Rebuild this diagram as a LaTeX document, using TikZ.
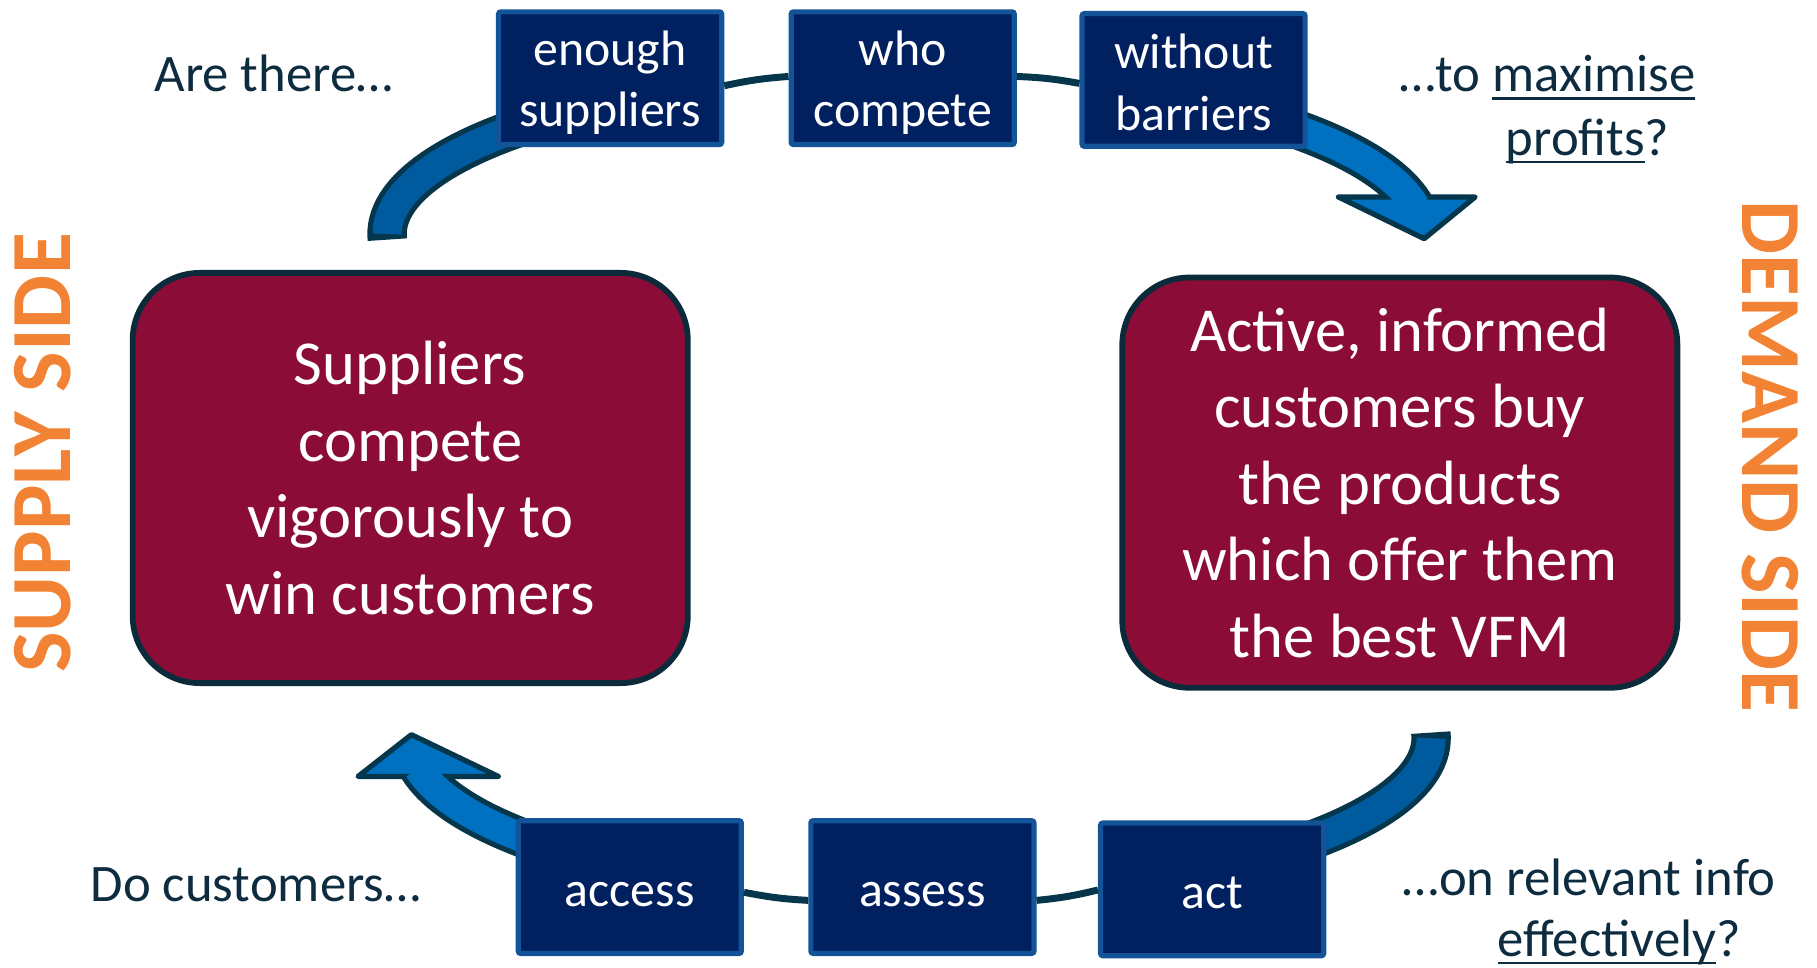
\documentclass[tikz,border=0pt]{standalone}
\usepackage{fontspec}
\setmainfont{Carlito}
\usetikzlibrary{calc}
\definecolor{navy}{HTML}{002060}
\definecolor{boxedge}{HTML}{125497}
\definecolor{burg}{HTML}{8A0C37}
\definecolor{burgedge}{HTML}{0B2B3A}
\definecolor{darkline}{HTML}{06364B}
\definecolor{tailblue}{HTML}{005A9E}
\definecolor{headblue}{HTML}{0070C0}
\definecolor{txt}{HTML}{0E2C40}
\definecolor{orng}{HTML}{F28234}
\newcommand\myul[1]{\setbox0\hbox{#1}\rlap{\rule[-3.5pt]{\wd0}{1pt}}#1}
\newcommand\hgt[1]{\rule{0pt}{#1}}
\begin{document}
\begin{tikzpicture}[x=0.5pt,y=0.5pt,
  smallbox/.style={draw=boxedge, line width=2.25pt, fill=navy, text=white,
    minimum width=96.25pt, minimum height=57.25pt, inner sep=0pt, align=center,
    font=\fontsize{21.5pt}{26.5pt}\selectfont, rounded corners=1pt},
  bigbox/.style={draw=burgedge, line width=2.5pt, fill=burg, text=white,
    minimum width=239.5pt, minimum height=177pt, rounded corners=29pt, align=center,
    inner sep=0pt, font=\fontsize{27pt}{33pt}\selectfont},
  side/.style={text=txt, font=\fontsize{22.75pt}{27pt}\selectfont, inner sep=0pt},
  sidetitle/.style={text=orng, font=\bfseries\fontsize{37pt}{40pt}\selectfont, inner sep=0pt},
  link/.style={draw=darkline, line width=3pt},
  shaftout/.style={draw=darkline, line width=17pt},
  shafttail/.style={draw=tailblue, line width=12.5pt},
  shafthead/.style={draw=headblue, line width=12.5pt},
  headtip/.style={fill=headblue, draw=darkline, line width=2.25pt, line join=round}
]
\useasboundingbox (0,0) rectangle (1568,835);

% ---- block arrows (drawn first, behind the boxes) ----
% top-left tail
\draw[shaftout] ({781+447*cos(182)},{633+138*sin(182)}) arc[start angle=182, end angle=130, x radius=447, y radius=138];
\draw[shafttail] ({781+447*cos(180)},{633+138*sin(180)}) arc[start angle=180, end angle=130, x radius=447, y radius=138];
% top-right with head
\draw[shaftout] ({781+447*cos(45)},{633+138*sin(45)}) arc[start angle=45, end angle=8, x radius=447, y radius=138];
\path[headtip] (1155,665) -- (1273,665) -- (1229,629) -- cycle;
\draw[shafthead] ({781+447*cos(45)},{633+138*sin(45)}) arc[start angle=45, end angle=10, x radius=447, y radius=138];
% bottom-right tail
\draw[shaftout] ({794+441*cos(2)},{198+137*sin(2)}) arc[start angle=2, end angle=-50, x radius=441, y radius=137];
\draw[shafttail] ({794+441*cos(0)},{198+137*sin(0)}) arc[start angle=0, end angle=-50, x radius=441, y radius=137];
% bottom-left with head
\draw[shaftout] ({794+441*cos(230)},{198+137*sin(230)}) arc[start angle=230, end angle=189, x radius=441, y radius=137];
\path[headtip] (309,165) -- (430,165) -- (355,201) -- cycle;
\draw[shafthead] ({794+441*cos(230)},{198+137*sin(230)}) arc[start angle=230, end angle=191, x radius=441, y radius=137];

% ---- boxes ----
\node[smallbox] (enough) at (526.5,767.5) {\hgt{19pt}enough\\suppliers};
\node[smallbox] (who) at (779,767.5) {\hgt{19pt}who\\compete};
\node[smallbox] (without) at (1030,766) {\hgt{17pt}without\\barriers};
\node[smallbox] (access) at (543.5,69.5) {\hgt{17pt}access};
\node[smallbox] (assess) at (796,69.5) {\hgt{17pt}assess};
\node[smallbox] (act) at (1046,67.5) {\hgt{17pt}act};

\node[bigbox] (supplybox) at (354,422.5) {Suppliers\\compete\\vigorously to\\win customers};
\node[bigbox] (demandbox) at (1208,418.5) {Active, informed\\customers buy\\the products\\which offer them\\the best VFM};

% ---- links between boxes ----
\draw[link] ([yshift=-3.25pt]enough.east) to[bend left=4] ([yshift=0.75pt]who.west);
\draw[link] ([yshift=0.75pt]who.east) to[bend left=4] ([yshift=-1.5pt]without.west);
\draw[link] ([yshift=-2.25pt]access.east) to[bend right=4] ([yshift=-5.75pt]assess.west);
\draw[link] ([yshift=-5.75pt]assess.east) to[bend right=4] ([yshift=-0.25pt]act.west);

% ---- side texts ----
\node[side, anchor=base west] (arethere) at (133,756) {Are there…};
\node[side, anchor=base west] (maximise) at (1207,756) {…to \myul{maximise}};
\node[side, anchor=base west] (profits) at (1299,701) {\myul{profits}?};
\node[side, anchor=base west] (docust) at (78,57) {Do customers…};
\node[side, anchor=base west] (relevant) at (1210,62) {…on relevant info};
\node[side, anchor=base west] (effect) at (1292,10) {\myul{effectively}?};

\node[sidetitle, rotate=90] (supply) at (37,444) {SUPPLY SIDE};
\node[sidetitle, rotate=-90] (demand) at (1528,441) {DEMAND SIDE};
\end{tikzpicture}
\end{document}
